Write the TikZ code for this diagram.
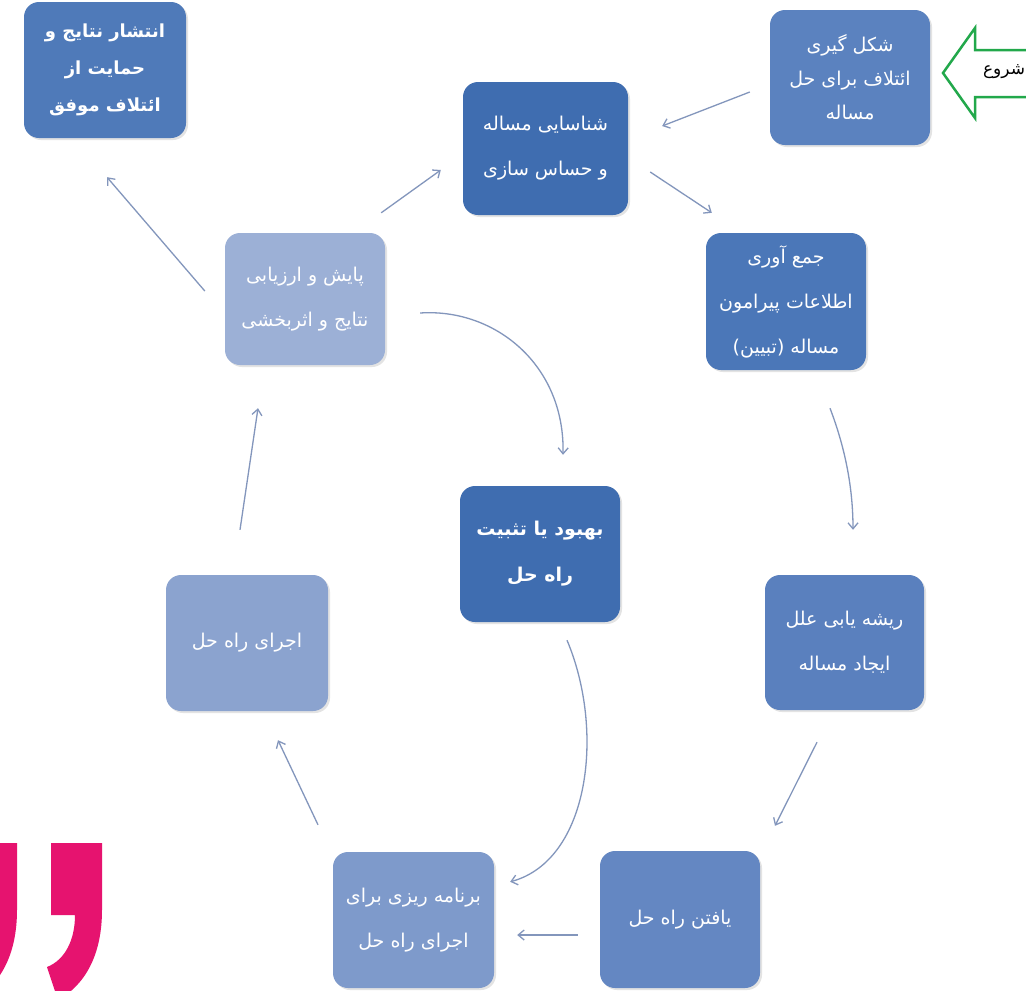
\documentclass[tikz,border=0pt]{standalone}
\usepackage{fontspec}
\setmainfont{DejaVu Sans}
\newfontfamily\fa[Script=Arabic]{DejaVu Sans}
\TeXXeTstate=1
\usetikzlibrary{arrows.meta,calc,shadows}
\newcommand\rl[1]{\beginR#1\endR}
\definecolor{cStart}{HTML}{5B82BF}
\definecolor{cShen}{HTML}{3F6DB0}
\definecolor{cJam}{HTML}{4B77B8}
\definecolor{cRish}{HTML}{5A80BE}
\definecolor{cYaft}{HTML}{6487C2}
\definecolor{cBarn}{HTML}{7E9ACB}
\definecolor{cEjra}{HTML}{8BA3CF}
\definecolor{cPay}{HTML}{9CB0D6}
\definecolor{cBeh}{HTML}{3F6DB0}
\definecolor{cEnt}{HTML}{4F7AB9}
\definecolor{arrc}{HTML}{8396BC}
\definecolor{grn}{HTML}{22A84B}
\definecolor{pink}{HTML}{E6136F}
\begin{document}
\begin{tikzpicture}[x=1pt,y=-1pt,
  box/.style={rounded corners=15pt, minimum width=160pt, minimum height=135pt,
    text=white, align=center, inner sep=4pt,
    font=\fa\fontsize{19}{45}\selectfont,
    drop shadow={opacity=0.22, shadow xshift=2pt, shadow yshift=-2pt}},
  arr/.style={draw=arrc, line width=1.3pt, -{Straight Barb[length=6pt,width=10pt]}}]
\useasboundingbox (0,0) rectangle (1026,991);
\fill[white] (0,0) rectangle (1026,991);

% boxes
\node[box, fill=cStart, minimum width=160pt, minimum height=135pt,
  font=\fa\fontsize{19}{34}\selectfont] (start) at (850,77.5)
  {\rl{شکل گیری}\\\rl{ائتلاف برای حل}\\\rl{مساله}};
\node[box, fill=cShen, minimum width=165pt, minimum height=133pt] (shen) at (545.5,148.5)
  {\rl{شناسایی مساله}\\\rl{و  حساس سازی}};
\node[box, fill=cJam, minimum width=160pt, minimum height=137pt] (jam) at (786,301.5)
  {\rl{جمع آوری}\\\rl{اطلاعات پیرامون}\\\rl{مساله (تبیین)}};
\node[box, fill=cRish, minimum width=159pt, minimum height=135pt] (rish) at (844.5,642.5)
  {\rl{ریشه یابی علل}\\\rl{ایجاد مساله}};
\node[box, fill=cYaft, minimum width=160pt, minimum height=137pt] (yaft) at (680,919.5)
  {\rl{یافتن راه حل}};
\node[box, fill=cBarn, minimum width=161pt, minimum height=136pt] (barn) at (413.5,920)
  {\rl{برنامه ریزی برای}\\\rl{اجرای راه حل}};
\node[box, fill=cEjra, minimum width=162pt, minimum height=136pt] (ejra) at (247,643)
  {\rl{اجرای راه حل}};
\node[box, fill=cPay, minimum width=160pt, minimum height=132pt] (pay) at (305,299)
  {\rl{پایش و ارزیابی}\\\rl{نتایج و اثربخشی}};
\node[box, fill=cBeh, minimum width=160pt, minimum height=136pt,
  font=\fa\bfseries\fontsize{19}{46}\selectfont] (beh) at (540,554)
  {\rl{بهبود یا تثبیت}\\\rl{راه حل}};
\node[box, fill=cEnt, minimum width=162pt, minimum height=136pt,
  font=\fa\bfseries\fontsize{18}{37}\selectfont] (ent) at (105,70)
  {\rl{انتشار نتایج و}\\\rl{حمایت از}\\\rl{ائتلاف موفق}};

% connectors
\draw[arr] ($(start.west)+(-20,14.5)$) -- ($(shen.east)+(34,-22.5)$);
\draw[arr] ($(shen.east)+(22,23.5)$) -- ($(jam.north west)+(6,-20)$);
\draw[arr] ($(jam.south)+(44,38)$) .. controls (846,450) and (853,490) .. ($(rish.north)+(8.5,-45)$);
\draw[arr] ($(rish.south)+(-27.5,32)$) -- ($(yaft.north)+(95,-25)$);
\draw[arr] ($(yaft.west)+(-22,15.5)$) -- ($(barn.east)+(23,15)$);
\draw[arr] ($(beh.south)+(27,18)$) .. controls (605,730) and (590,860) .. ($(barn.north east)+(16,30)$);
\draw[arr] ($(barn.north)+(-95.5,-27)$) -- ($(ejra.south)+(31,29)$);
\draw[arr] ($(ejra.north)+(-7,-45)$) -- ($(pay.south)+(-47,43)$);
\draw[arr] ($(pay.north east)+(-4,-20)$) -- ($(shen.west)+(-22,21.5)$);
\draw[arr] ($(pay.east)+(35,14)$) .. controls (495,308) and (565,365) .. ($(beh.north)+(23,-31)$);
\draw[arr] ($(pay.west)+(-20,-8)$) -- ($(ent.south)+(2,39)$);

% start arrow
\draw[grn, line width=2.5pt, fill=white, line join=miter]
  (943,73) -- (975,28) -- (975,50) -- (1040,50) -- (1040,97) -- (975,97) -- (975,118) -- cycle;
\node[font=\fa\fontsize{17}{20}\selectfont, text=black] (shuru) at (1004,72) {\rl{شروع}};

% pink quotation marks
\begin{scope}
\clip (0,0) rectangle (1026,991);
\foreach \dx in {0,-85}{
  \fill[pink, shift={(\dx,0)}] (51,843) -- (102,843) -- (102,910)
    .. controls (102,955) and (85,985) .. (58,1000) -- (47,967)
    .. controls (65,960) and (75,940) .. (75,915) -- (51,915) -- cycle;
}
\end{scope}
\end{tikzpicture}
\end{document}
